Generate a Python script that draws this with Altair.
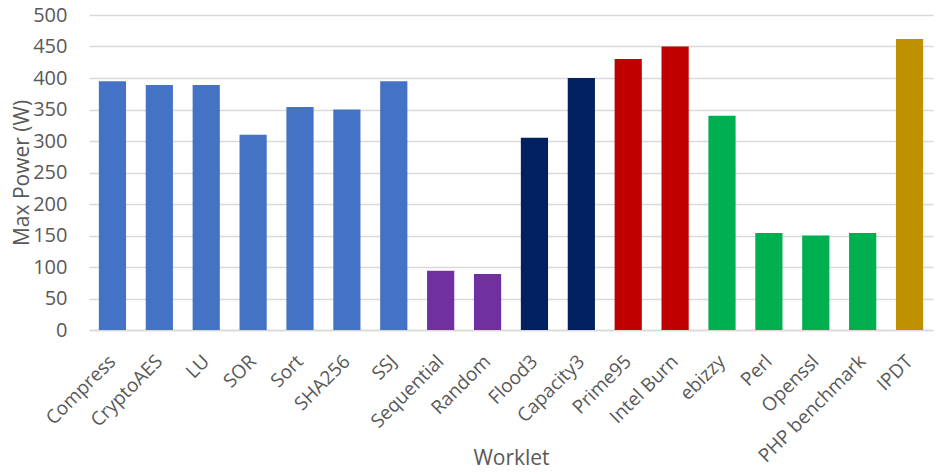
import altair as alt
import pandas as pd

worklets = ["Compress", "CryptoAES", "LU", "SOR", "Sort", "SHA256", "SSJ",
            "Sequential", "Random", "Flood3", "Capacity3", "Prime95", "Intel Burn",
            "ebizzy", "Perl", "Openssl", "PHP benchmark", "IPDT"]
max_power = [395, 389, 389, 310, 354, 350, 395,
             94, 89, 305, 400, 430, 450,
             340, 154, 150, 154, 462]
groups = ["cpu"] * 7 + ["storage"] * 2 + ["memory"] * 2 + ["burn"] * 2 + ["app"] * 4 + ["ipdt"]
group_names = ["cpu", "storage", "memory", "burn", "app", "ipdt"]
group_colors = ["#4472C4", "#7030A0", "#002060", "#C00000", "#00B050", "#BF9000"]

df = pd.DataFrame({"Worklet": worklets, "Power": max_power, "Group": groups})

FONT = "Open Sans"
GREY = "#595959"

chart = alt.Chart(df).mark_bar().encode(
    x=alt.X("Worklet:N", sort=worklets,
            scale=alt.Scale(paddingInner=0.42, paddingOuter=0.21),
            axis=alt.Axis(title="Worklet", labelAngle=-45, labelAlign="right",
                          labelBaseline="middle", labelPadding=28, ticks=False,
                          domain=True, domainColor="#d9d9d9", domainWidth=1.5,
                          labelFontSize=19, labelColor=GREY, labelFont=FONT,
                          titleFontSize=21, titleColor=GREY, titleFont=FONT,
                          titleFontWeight="normal", titleY=128, titleBaseline="middle")),
    y=alt.Y("Power:Q",
            scale=alt.Scale(domain=[0, 500], nice=False),
            axis=alt.Axis(title="Max Power (W)", values=list(range(0, 501, 50)),
                          ticks=False, domain=False, grid=True,
                          gridColor="#d9d9d9", gridWidth=1.5,
                          labelFontSize=20, labelColor=GREY, labelFont=FONT,
                          labelPadding=22,
                          titleFontSize=21, titleColor=GREY, titleFont=FONT,
                          titleFontWeight="normal", titleX=-67, titleBaseline="middle")),
    color=alt.Color("Group:N", scale=alt.Scale(domain=group_names, range=group_colors),
                    legend=None),
).properties(
    width=844, height=315,
    autosize=alt.AutoSizeParams(type="none"),
    padding={"left": 81, "top": 7, "right": 3, "bottom": 145},
).configure_view(stroke=None)

chart.save("out.html", embed_options={"renderer": "svg", "actions": False})
